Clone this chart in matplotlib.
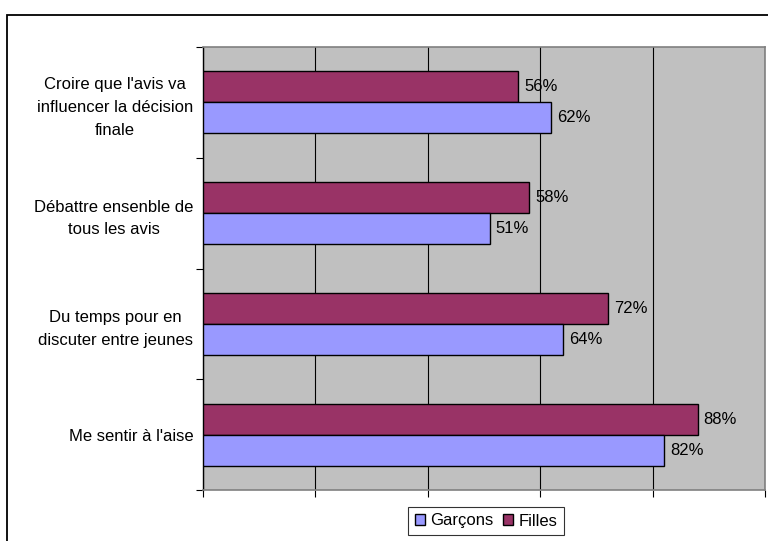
import matplotlib.pyplot as plt
from matplotlib.patches import Rectangle
import numpy as np

plt.rcParams['font.family'] = ['Liberation Sans', 'DejaVu Sans']

categories = ["Croire que l'avis va\ninfluencer la décision\nfinale",
              "Débattre ensenble de\ntous les avis",
              "Du temps pour en\ndiscuter entre jeunes",
              "Me sentir à l'aise"]
garcons = [62, 51, 64, 82]
filles = [56, 58, 72, 88]
series_names = ['Garçons', 'Filles']

col_g = '#9999FF'
col_f = '#993366'
bar_h = 0.28

fig = plt.figure(figsize=(7.68, 5.41), dpi=100)
fig.patches.append(Rectangle((7 / 768, -0.1), 1.2, 1 - 15 / 541 + 0.1,
                             transform=fig.transFigure, fill=False,
                             edgecolor='black', linewidth=1.3))
ax = fig.add_axes([203 / 768, 1 - 490 / 541, 562 / 768, (490 - 47) / 541])
ax.set_facecolor('#C0C0C0')

y = np.arange(len(categories))
bf = ax.barh(y - bar_h / 2, filles, height=bar_h, color=col_f,
             edgecolor='black', linewidth=1, label=series_names[1], zorder=3)
bg = ax.barh(y + bar_h / 2, garcons, height=bar_h, color=col_g,
             edgecolor='black', linewidth=1, label=series_names[0], zorder=3)

for bars, vals in ((bf, filles), (bg, garcons)):
    for b, v in zip(bars, vals):
        ax.text(v + 1.1, b.get_y() + b.get_height() / 2, '%d%%' % v,
                va='center', ha='left', fontsize=12, zorder=4)

ax.set_xlim(0, 100)
ax.set_ylim(len(categories) - 0.5, -0.5)
ax.set_xticks([0, 20, 40, 60, 80, 100])
ax.set_xticklabels([])
ax.xaxis.grid(True, color='black', linewidth=0.8, zorder=1)
ax.set_axisbelow(True)
ax.tick_params(axis='x', direction='out', length=5, width=0.8)

ax.set_yticks(np.arange(-0.5, len(categories), 1))
ax.set_yticklabels([])
ax.set_yticks(y, minor=True)
ax.set_yticklabels(categories, minor=True, ha='right', fontsize=12,
                   multialignment='center', linespacing=1.65)
ax.tick_params(axis='y', which='major', direction='out', length=5, width=0.8)
ax.tick_params(axis='y', which='minor', length=0, pad=7)

for s in ('top', 'right', 'bottom'):
    ax.spines[s].set_color('#808080')
    ax.spines[s].set_linewidth(1.2)
ax.spines['left'].set_color('black')
ax.spines['left'].set_linewidth(1)

leg = fig.legend(handles=[bg, bf], labels=series_names, loc='center',
                 bbox_to_anchor=(486 / 768, 1 - 521 / 541), ncol=2,
                 frameon=True, fancybox=False, edgecolor='black',
                 fontsize=12, handlelength=0.6, handleheight=0.6,
                 handletextpad=0.3, columnspacing=0.6, borderpad=0.4)
leg.get_frame().set_linewidth(0.8)

fig.savefig('out.png', dpi=100)
